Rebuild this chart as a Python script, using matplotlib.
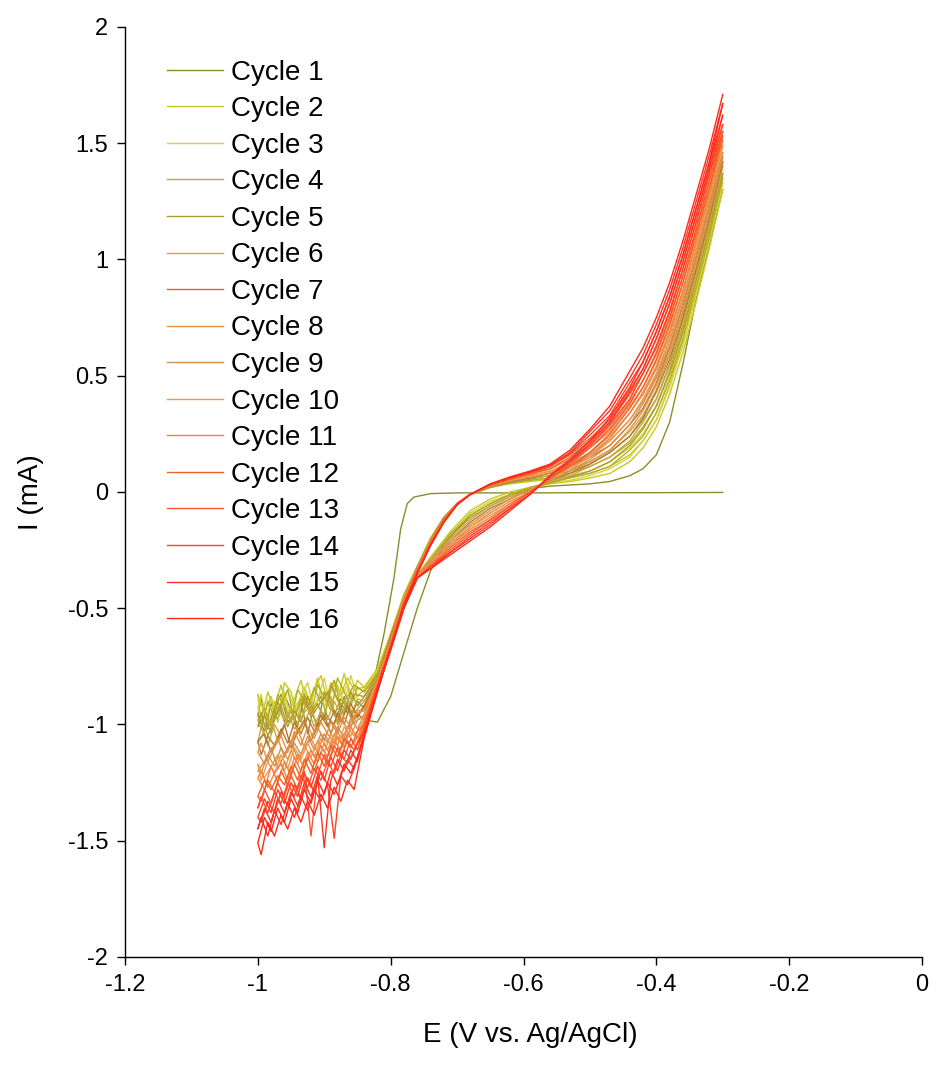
import matplotlib
matplotlib.use('Agg')
import matplotlib.pyplot as plt

plt.rcParams['font.family'] = ['Liberation Sans', 'DejaVu Sans']

# potential grids (V vs Ag/AgCl)
E_FWD = [-0.30, -0.32, -0.34, -0.36, -0.38, -0.40, -0.42, -0.44, -0.47, -0.50, -0.53, -0.56,
         -0.59, -0.62, -0.65, -0.68, -0.71, -0.74, -0.76, -0.78, -0.80, -0.82, -0.84]
E_FWD_CYCLE1 = [-0.30, -0.40, -0.50, -0.60, -0.70, -0.74, -0.765, -0.775, -0.785, -0.795, -0.81, -0.825, -0.84]
E_NOISE_FWD = [-0.85, -0.86, -0.87, -0.88, -0.89, -0.90, -0.91, -0.92, -0.93, -0.94, -0.95, -0.96,
               -0.97, -0.98, -0.99, -1.00]
E_NOISE_REV = [-0.995, -0.985, -0.975, -0.965, -0.955, -0.945, -0.935, -0.925, -0.915, -0.905, -0.895,
               -0.885, -0.875, -0.865, -0.855]
E_REV = [-0.84, -0.82, -0.80, -0.78, -0.76, -0.74, -0.72, -0.70, -0.68, -0.65, -0.62, -0.59, -0.56,
         -0.53, -0.50, -0.47, -0.44, -0.42, -0.40, -0.38, -0.36, -0.34, -0.32, -0.30]

# current (mA), cathodic sweep from -0.3 V
I_FWD_CYCLE1 = [-0.002, -0.003, -0.003, -0.004, -0.004, -0.007, -0.022, -0.05, -0.16, -0.37, -0.61, -0.81, -0.93]
I_FWD = [
    [1.30, 1.05, 0.82, 0.60, 0.42, 0.28, 0.19, 0.13, 0.08, 0.06, 0.045, 0.035, 0.02, 0.00, -0.03, -0.08, -0.17, -0.28, -0.36, -0.45, -0.61, -0.78, -0.84],  # 2
    [1.33, 1.08, 0.85, 0.63, 0.45, 0.31, 0.22, 0.15, 0.10, 0.07, 0.05, 0.04, 0.02, -0.01, -0.04, -0.09, -0.18, -0.28, -0.36, -0.45, -0.61, -0.79, -0.85],  # 3
    [1.35, 1.10, 0.88, 0.66, 0.48, 0.34, 0.24, 0.18, 0.11, 0.08, 0.06, 0.04, 0.02, -0.01, -0.05, -0.10, -0.18, -0.29, -0.36, -0.46, -0.62, -0.79, -0.86],  # 4
    [1.37, 1.13, 0.91, 0.69, 0.51, 0.37, 0.27, 0.20, 0.13, 0.09, 0.065, 0.04, 0.01, -0.02, -0.06, -0.11, -0.19, -0.29, -0.36, -0.46, -0.62, -0.80, -0.88],  # 5
    [1.40, 1.16, 0.93, 0.72, 0.54, 0.40, 0.30, 0.22, 0.15, 0.11, 0.07, 0.045, 0.01, -0.02, -0.06, -0.12, -0.20, -0.29, -0.36, -0.46, -0.63, -0.80, -0.90],  # 6
    [1.42, 1.18, 0.96, 0.75, 0.57, 0.43, 0.32, 0.24, 0.17, 0.12, 0.08, 0.05, 0.01, -0.03, -0.07, -0.13, -0.21, -0.30, -0.36, -0.47, -0.63, -0.81, -0.92],  # 7
    [1.44, 1.21, 0.99, 0.78, 0.60, 0.46, 0.35, 0.27, 0.18, 0.13, 0.09, 0.05, 0.01, -0.03, -0.08, -0.14, -0.21, -0.30, -0.36, -0.47, -0.64, -0.81, -0.94],  # 8
    [1.46, 1.24, 1.02, 0.81, 0.63, 0.49, 0.38, 0.29, 0.20, 0.14, 0.09, 0.05, 0.00, -0.04, -0.09, -0.15, -0.22, -0.31, -0.37, -0.47, -0.65, -0.82, -0.96],  # 9
    [1.49, 1.26, 1.05, 0.84, 0.66, 0.51, 0.40, 0.31, 0.22, 0.15, 0.10, 0.06, 0.00, -0.05, -0.10, -0.15, -0.23, -0.31, -0.37, -0.48, -0.65, -0.82, -0.97],  # 10
    [1.51, 1.29, 1.08, 0.87, 0.69, 0.54, 0.43, 0.34, 0.23, 0.16, 0.11, 0.06, 0.00, -0.05, -0.11, -0.16, -0.23, -0.31, -0.37, -0.48, -0.66, -0.83, -0.99],  # 11
    [1.53, 1.31, 1.11, 0.90, 0.72, 0.57, 0.45, 0.36, 0.25, 0.17, 0.11, 0.06, 0.00, -0.06, -0.12, -0.17, -0.24, -0.32, -0.37, -0.48, -0.66, -0.83, -1.00],  # 12
    [1.55, 1.34, 1.13, 0.93, 0.75, 0.60, 0.48, 0.38, 0.27, 0.19, 0.12, 0.06, 0.00, -0.06, -0.12, -0.18, -0.25, -0.32, -0.37, -0.49, -0.67, -0.84, -1.02],  # 13
    [1.58, 1.37, 1.16, 0.96, 0.78, 0.63, 0.51, 0.40, 0.29, 0.20, 0.13, 0.07, -0.01, -0.07, -0.13, -0.19, -0.26, -0.32, -0.37, -0.49, -0.67, -0.84, -1.03],  # 14
    [1.62, 1.39, 1.19, 0.99, 0.81, 0.66, 0.53, 0.43, 0.30, 0.21, 0.13, 0.07, -0.01, -0.07, -0.14, -0.20, -0.26, -0.33, -0.37, -0.50, -0.68, -0.85, -1.04],  # 15
    [1.67, 1.42, 1.22, 1.02, 0.84, 0.69, 0.56, 0.45, 0.32, 0.22, 0.14, 0.07, -0.01, -0.08, -0.15, -0.21, -0.27, -0.33, -0.37, -0.50, -0.68, -0.85, -1.05],  # 16
]

# noisy plateau near -1 V, cathodic part then anodic part
NOISE_FWD = [
    [-0.90, -0.97, -0.88, -0.99, -0.92, -0.86, -1.01, -0.93, -0.89, -1.00, -0.94, -0.87, -0.98, -0.91, -1.03, -0.96],
    [-0.81, -0.89, -0.78, -0.90, -0.82, -0.93, -0.80, -0.91, -0.84, -0.97, -0.86, -0.82, -0.99, -0.88, -0.95, -0.87],
    [-0.88, -0.79, -0.91, -0.83, -0.93, -0.80, -0.89, -0.95, -0.84, -0.92, -0.99, -0.86, -0.94, -0.89, -1.01, -0.93],
    [-0.84, -0.92, -0.86, -0.80, -0.94, -0.88, -0.83, -0.96, -0.90, -0.85, -0.99, -0.92, -0.87, -1.01, -0.93, -0.98],
    [-0.92, -0.86, -0.96, -0.89, -0.83, -0.98, -0.91, -0.95, -0.87, -1.01, -0.94, -0.99, -0.90, -1.04, -0.96, -1.01],
    [-0.89, -0.96, -0.92, -1.00, -0.88, -0.95, -1.02, -0.93, -0.99, -1.04, -0.94, -1.01, -1.07, -0.98, -1.03, -1.08],
    [-0.97, -0.91, -1.00, -0.95, -1.04, -0.96, -1.01, -1.07, -0.98, -1.03, -1.10, -1.00, -1.06, -1.12, -1.04, -1.07],
    [-0.94, -1.01, -0.97, -1.04, -0.99, -1.07, -1.01, -1.05, -1.10, -1.02, -1.08, -1.14, -1.06, -1.11, -1.17, -1.12],
    [-1.02, -0.97, -1.06, -1.01, -1.09, -1.04, -1.12, -1.06, -1.10, -1.15, -1.07, -1.13, -1.19, -1.10, -1.16, -1.20],
    [-0.98, -1.05, -1.01, -1.09, -1.04, -1.12, -1.07, -1.14, -1.09, -1.17, -1.11, -1.20, -1.13, -1.18, -1.23, -1.17],
    [-1.06, -1.01, -1.10, -1.05, -1.14, -1.08, -1.16, -1.11, -1.19, -1.13, -1.22, -1.16, -1.25, -1.18, -1.28, -1.23],
    [-1.03, -1.10, -1.06, -1.14, -1.09, -1.18, -1.12, -1.21, -1.15, -1.24, -1.18, -1.26, -1.22, -1.28, -1.24, -1.31],
    [-1.11, -1.06, -1.15, -1.10, -1.18, -1.13, -1.22, -1.48, -1.20, -1.28, -1.22, -1.31, -1.25, -1.34, -1.28, -1.36],
    [-1.08, -1.15, -1.11, -1.20, -1.14, -1.24, -1.18, -1.27, -1.21, -1.31, -1.25, -1.34, -1.28, -1.38, -1.32, -1.40],
    [-1.16, -1.11, -1.20, -1.15, -1.24, -1.53, -1.22, -1.31, -1.25, -1.35, -1.29, -1.38, -1.32, -1.42, -1.36, -1.45],
    [-1.14, -1.21, -1.17, -1.26, -1.20, -1.30, -1.24, -1.34, -1.28, -1.38, -1.32, -1.42, -1.36, -1.46, -1.40, -1.51],
]
NOISE_REV = [
    [-0.89, -1.02, -0.93, -0.87, -0.99, -0.95, -0.90, -1.04, -0.92, -0.88, -0.97, -1.00, -0.91, -0.95, -0.94],
    [-0.98, -0.86, -0.93, -0.83, -0.96, -0.89, -0.81, -0.93, -0.85, -0.79, -0.90, -0.83, -0.87, -0.80, -0.85],
    [-0.87, -1.00, -0.90, -0.96, -0.85, -0.93, -0.88, -0.82, -0.94, -0.86, -0.90, -0.81, -0.88, -0.83, -0.89],
    [-1.02, -0.90, -0.97, -0.91, -0.85, -0.98, -0.89, -0.93, -0.84, -0.91, -0.87, -0.81, -0.92, -0.88, -0.83],
    [-0.95, -1.05, -0.98, -0.92, -1.01, -0.94, -0.99, -0.88, -0.95, -0.90, -0.86, -0.96, -0.89, -0.93, -0.87],
    [-1.01, -1.09, -1.00, -1.05, -0.95, -1.02, -0.97, -0.93, -1.01, -0.94, -0.98, -0.90, -0.96, -0.92, -0.95],
    [-1.13, -1.05, -1.09, -1.02, -1.08, -0.99, -1.04, -0.97, -1.03, -0.96, -1.01, -0.94, -0.99, -0.92, -0.98],
    [-1.08, -1.16, -1.10, -1.05, -1.12, -1.03, -1.09, -1.01, -1.06, -0.99, -1.04, -1.08, -0.97, -1.02, -0.96],
    [-1.21, -1.13, -1.18, -1.10, -1.15, -1.08, -1.13, -1.05, -1.11, -1.04, -1.08, -1.00, -1.06, -1.02, -0.99],
    [-1.24, -1.16, -1.21, -1.13, -1.19, -1.10, -1.15, -1.08, -1.14, -1.06, -1.11, -1.04, -1.08, -1.01, -1.05],
    [-1.20, -1.27, -1.21, -1.17, -1.24, -1.14, -1.20, -1.12, -1.17, -1.09, -1.14, -1.07, -1.11, -1.04, -1.08],
    [-1.33, -1.24, -1.29, -1.20, -1.26, -1.17, -1.23, -1.14, -1.20, -1.12, -1.17, -1.09, -1.14, -1.07, -1.11],
    [-1.31, -1.38, -1.29, -1.34, -1.25, -1.31, -1.22, -1.27, -1.19, -1.24, -1.16, -1.21, -1.13, -1.17, -1.11],
    [-1.42, -1.33, -1.38, -1.29, -1.35, -1.26, -1.32, -1.23, -1.29, -1.20, -1.26, -1.49, -1.22, -1.15, -1.19],
    [-1.40, -1.48, -1.37, -1.43, -1.34, -1.40, -1.31, -1.37, -1.28, -1.33, -1.25, -1.30, -1.22, -1.26, -1.19],
    [-1.56, -1.42, -1.48, -1.39, -1.45, -1.36, -1.42, -1.33, -1.39, -1.30, -1.36, -1.27, -1.33, -1.24, -1.28],
]

# anodic sweep back to -0.3 V
I_REV = [
    [-0.98, -0.99, -0.88, -0.69, -0.50, -0.34, -0.23, -0.16, -0.10, -0.05, -0.012, 0.015, 0.025, 0.03, 0.035, 0.045, 0.07, 0.10, 0.16, 0.30, 0.55, 0.83, 1.07, 1.30],  # 1
    [-0.84, -0.76, -0.61, -0.44, -0.32, -0.20, -0.11, -0.05, -0.01, 0.02, 0.035, 0.045, 0.055, 0.065, 0.08, 0.11, 0.16, 0.22, 0.31, 0.46, 0.65, 0.86, 1.09, 1.33],  # 2
    [-0.85, -0.77, -0.61, -0.44, -0.32, -0.20, -0.11, -0.05, -0.01, 0.02, 0.04, 0.05, 0.06, 0.07, 0.09, 0.13, 0.19, 0.25, 0.34, 0.49, 0.68, 0.89, 1.12, 1.35],  # 3
    [-0.86, -0.78, -0.62, -0.45, -0.32, -0.20, -0.11, -0.05, -0.01, 0.02, 0.04, 0.05, 0.06, 0.08, 0.11, 0.15, 0.21, 0.28, 0.37, 0.52, 0.71, 0.92, 1.15, 1.37],  # 4
    [-0.88, -0.79, -0.62, -0.45, -0.33, -0.21, -0.11, -0.05, -0.01, 0.02, 0.04, 0.055, 0.07, 0.09, 0.12, 0.17, 0.24, 0.31, 0.40, 0.55, 0.74, 0.95, 1.17, 1.40],  # 5
    [-0.90, -0.80, -0.63, -0.45, -0.33, -0.21, -0.12, -0.05, -0.01, 0.025, 0.045, 0.06, 0.07, 0.10, 0.13, 0.18, 0.26, 0.33, 0.44, 0.59, 0.77, 0.98, 1.20, 1.42],  # 6
    [-0.92, -0.81, -0.63, -0.46, -0.33, -0.21, -0.12, -0.05, -0.01, 0.025, 0.045, 0.06, 0.08, 0.11, 0.15, 0.20, 0.29, 0.36, 0.47, 0.62, 0.80, 1.01, 1.23, 1.44],  # 7
    [-0.94, -0.82, -0.64, -0.46, -0.33, -0.21, -0.12, -0.05, -0.01, 0.026, 0.048, 0.064, 0.083, 0.114, 0.16, 0.22, 0.31, 0.39, 0.50, 0.65, 0.83, 1.04, 1.26, 1.46],  # 8
    [-0.96, -0.83, -0.64, -0.47, -0.33, -0.22, -0.12, -0.05, -0.01, 0.03, 0.05, 0.07, 0.09, 0.12, 0.17, 0.24, 0.34, 0.42, 0.53, 0.68, 0.86, 1.07, 1.28, 1.49],  # 9
    [-0.98, -0.83, -0.65, -0.47, -0.34, -0.22, -0.12, -0.05, -0.01, 0.03, 0.05, 0.07, 0.09, 0.13, 0.19, 0.26, 0.37, 0.45, 0.56, 0.71, 0.90, 1.10, 1.31, 1.51],  # 10
    [-1.00, -0.84, -0.65, -0.47, -0.34, -0.22, -0.12, -0.05, -0.01, 0.03, 0.055, 0.075, 0.10, 0.14, 0.20, 0.28, 0.39, 0.48, 0.59, 0.74, 0.93, 1.13, 1.34, 1.53],  # 11
    [-1.01, -0.84, -0.66, -0.48, -0.34, -0.22, -0.12, -0.05, -0.01, 0.03, 0.055, 0.08, 0.10, 0.15, 0.22, 0.30, 0.42, 0.51, 0.62, 0.77, 0.96, 1.16, 1.37, 1.55],  # 12
    [-1.03, -0.85, -0.66, -0.48, -0.34, -0.22, -0.13, -0.05, -0.01, 0.03, 0.06, 0.08, 0.11, 0.16, 0.23, 0.31, 0.44, 0.53, 0.66, 0.81, 0.99, 1.19, 1.40, 1.58],  # 13
    [-1.04, -0.85, -0.67, -0.48, -0.35, -0.23, -0.13, -0.055, -0.01, 0.033, 0.06, 0.085, 0.11, 0.165, 0.245, 0.33, 0.47, 0.56, 0.69, 0.84, 1.02, 1.22, 1.42, 1.62],  # 14
    [-1.05, -0.86, -0.67, -0.49, -0.35, -0.23, -0.13, -0.055, -0.01, 0.034, 0.063, 0.087, 0.115, 0.17, 0.26, 0.35, 0.49, 0.59, 0.72, 0.87, 1.05, 1.25, 1.45, 1.67],  # 15
    [-1.06, -0.86, -0.67, -0.49, -0.35, -0.23, -0.13, -0.055, -0.01, 0.035, 0.065, 0.09, 0.12, 0.18, 0.27, 0.37, 0.52, 0.62, 0.75, 0.90, 1.08, 1.28, 1.48, 1.71],  # 16
]

LABELS = [f"Cycle {n}" for n in range(1, 17)]
COLORS = ['#8c8c2a', '#c8c820', '#d8d040', '#b4b020', '#b09a30', '#c8a840', '#b87830', '#e89040',
          '#d09050', '#f09848', '#f88040', '#f06020', '#ff5030', '#ff4020', '#f83428', '#ff2818']

X_TICKS = [-1.2, -1.0, -0.8, -0.6, -0.4, -0.2, 0.0]
X_TICK_LABELS = ['-1.2', '-1', '-0.8', '-0.6', '-0.4', '-0.2', '0']
Y_TICKS = [-2, -1.5, -1, -0.5, 0, 0.5, 1, 1.5, 2]
Y_TICK_LABELS = ['-2', '-1.5', '-1', '-0.5', '0', '0.5', '1', '1.5', '2']

fig = plt.figure(figsize=(9.37, 10.75), dpi=100)
ax = fig.add_axes([0.1334, 0.1098, 0.8506, 0.8651])

for i in range(16):
    if i == 0:
        e_fwd, i_fwd = E_FWD_CYCLE1, I_FWD_CYCLE1
    else:
        e_fwd, i_fwd = E_FWD, I_FWD[i - 1]
    e = e_fwd + E_NOISE_FWD + E_NOISE_REV + E_REV
    cur = i_fwd + NOISE_FWD[i] + NOISE_REV[i] + I_REV[i]
    ax.plot(e, cur, color=COLORS[i], lw=1.0, label=LABELS[i])

ax.set_xlim(-1.2, 0)
ax.set_ylim(-2, 2)
ax.set_xticks(X_TICKS)
ax.set_xticklabels(X_TICK_LABELS)
ax.set_yticks(Y_TICKS)
ax.set_yticklabels(Y_TICK_LABELS)
ax.tick_params(direction='out', length=6, width=1, labelsize=17, pad=6)
for side in ['top', 'right']:
    ax.spines[side].set_visible(False)
for side in ['left', 'bottom']:
    ax.spines[side].set_linewidth(1)

ax.set_xlabel('E (V vs. Ag/AgCl)', fontsize=20)
ax.set_ylabel('I (mA)', fontsize=20)
ax.xaxis.set_label_coords(0.508, -0.07)
ax.yaxis.set_label_coords(-0.102, 0.5)

ax.legend(loc='upper left', bbox_to_anchor=(0.053, 0.965), frameon=False, fontsize=20,
          handlelength=2.0, handletextpad=0.3, labelspacing=0.38, borderaxespad=0, borderpad=0)

fig.savefig('out.png', dpi=100)
